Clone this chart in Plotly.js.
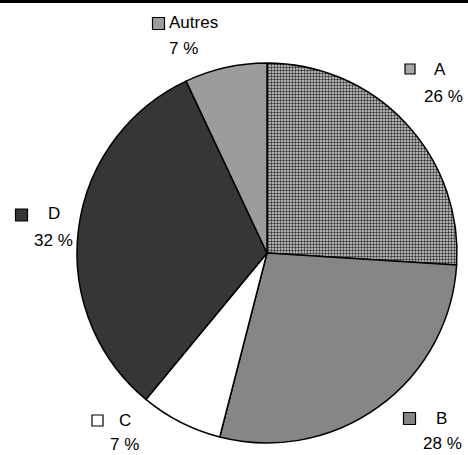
<!DOCTYPE html>
<html>
<head>
<meta charset="utf-8">
<script src="https://cdn.plot.ly/plotly-3.0.1.min.js"></script>
<style>html,body{margin:0;padding:0;background:#fff;}#chart{width:468px;height:455px;}</style>
</head>
<body>
<div id="chart"></div>
<script>
// Data
const categories = ["A", "B", "C", "D", "Autres"];
const shares = [26, 28, 7, 32, 7];

// Styles
const colors = ["#b4b4b4", "#868686", "#ffffff", "#363636", "#9c9c9c"];
const patternShapes = [".", "", "", "", ""];
const squareColors = ["#a8a8a8", "#868686", "#ffffff", "#363636", "#9c9c9c"];
const squareSizes = [10, 12, 11, 12, 12];
// label placement in pixels: [squareX, squareY, nameX, nameY, pctX, pctY]
const labelPos = [
  [410, 69, 440, 69, 443.5, 96.5],
  [409.5, 418.5, 441, 418.5, 442.5, 443.5],
  [97.5, 420.5, 125, 420.5, 124.5, 444.5],
  [21.5, 215, 53.5, 213.5, 53.5, 240],
  [158.5, 23.5, 193, 22.5, 183, 48.5]
];

const W = 468, H = 455;
const px = x => x / W;
const py = y => 1 - y / H;
const cx = 267, cy = 253, R = 190;

const trace = {
  type: "pie",
  labels: categories,
  values: shares,
  sort: false,
  direction: "clockwise",
  rotation: 0,
  textinfo: "none",
  hoverinfo: "label+percent",
  showlegend: false,
  domain: { x: [px(cx - R), px(cx + R)], y: [py(cy + R), py(cy - R)] },
  marker: {
    colors: colors,
    line: { color: "#000", width: 1.5 },
    pattern: { shape: patternShapes, fgcolor: "#333", bgcolor: "#d8d8d8", size: 3, solidity: 0.5 }
  }
};

const font = { family: "Liberation Sans, Arial, sans-serif", size: 17, color: "#000" };
const annotations = [];
const shapes = [{
  type: "line", xref: "paper", yref: "paper", x0: 0, x1: 1, y0: py(1.5), y1: py(1.5),
  line: { color: "#000", width: 3 }
}];
categories.forEach((c, i) => {
  const p = labelPos[i];
  const h = squareSizes[i] / 2;
  annotations.push({ xref: "paper", yref: "paper", x: px(p[2]), y: py(p[3]), text: c,
    showarrow: false, xanchor: "center", yanchor: "middle", font: font, borderpad: 0 });
  annotations.push({ xref: "paper", yref: "paper", x: px(p[4]), y: py(p[5]), text: shares[i] + " %",
    showarrow: false, xanchor: "center", yanchor: "middle", font: font, borderpad: 0 });
  shapes.push({ type: "rect", xref: "paper", yref: "paper",
    x0: px(p[0] - h), x1: px(p[0] + h), y0: py(p[1] + h), y1: py(p[1] - h),
    fillcolor: squareColors[i], line: { color: "#000", width: 1.2 } });
});

Plotly.newPlot("chart", [trace], {
  width: W, height: H,
  margin: { l: 0, r: 0, t: 0, b: 0 },
  paper_bgcolor: "#fff",
  annotations: annotations,
  shapes: shapes
}, { displayModeBar: false, staticPlot: true });
</script>
</body>
</html>
